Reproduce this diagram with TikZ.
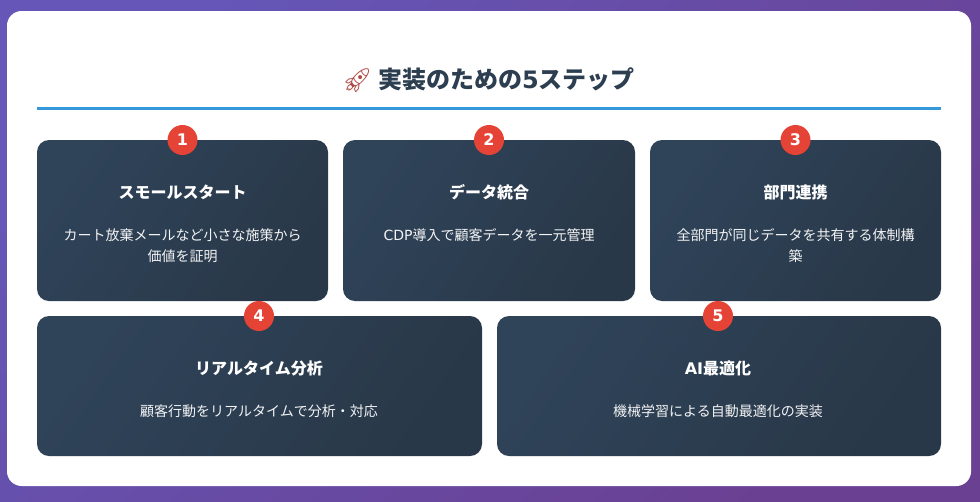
\documentclass[tikz,border=0pt]{standalone}
\usepackage{fontspec}
\setmainfont{Noto Sans CJK JP}
\newfontfamily\emojifont{Noto Emoji}
\newfontfamily\latinfont{DejaVu Sans}
\definecolor{bgstart}{RGB}{101,86,183}
\definecolor{bgend}{RGB}{106,64,146}
\definecolor{cardstart}{RGB}{47,67,89}
\definecolor{cardend}{RGB}{41,56,72}
\definecolor{titletext}{HTML}{2C3E50}
\definecolor{ruleblue}{HTML}{3498DB}
\definecolor{badgered}{RGB}{229,67,54}
\definecolor{rocketred}{RGB}{176,74,70}
\tikzset{
    card/.style={rounded corners=9pt, top color=cardstart, bottom color=cardend, shading angle=55},
    badge/.style={circle, fill=badgered, text=white, inner sep=0pt, minimum size=22.5pt, font=\fontsize{12}{12}\selectfont\latinfont\bfseries},
    cardhead/.style={text=white, inner sep=0pt, font=\fontsize{12}{12}\selectfont\bfseries},
    cardbody/.style={text=white!94!cardstart, inner sep=0pt, align=center, font=\fontsize{10.5}{15.75}\selectfont},
}

\begin{document}
\begin{tikzpicture}[x=0.75pt, y=-0.75pt]
            \useasboundingbox (0,0) rectangle (980,501);

            % background
            \shade[top color=bgstart, bottom color=bgend, shading angle=45] (0,0) rectangle (980,501);
            \fill[white, rounded corners=11pt] (7,11) rectangle (971,486);

            % title
            \node[text=titletext, inner sep=0pt, font=\fontsize{18}{18}\selectfont\bfseries] (title) at (488.5,80)
                {{\emojifont\textcolor{rocketred}{🚀}} 実装のための{\latinfont 5}ステップ};
            \fill[ruleblue] (37,107) rectangle (941,110);

            % cards
            \foreach \xa/\xb/\ya/\yb in {37/328/140/301, 343/635/140/301, 650/941/140/301, 37/482/316/456, 497/941/316/456}
                {
                    \shade[card] (\xa,\ya) rectangle (\xb,\yb);
                }

            % badges
            \foreach \n/\x/\y in {1/182.5/140, 2/489/140, 3/795.5/140, 4/259/316, 5/718/316}
                {
                    \node[badge] (badge\n) at (\x,\y) {\n};
                }

            % headings
            \node[cardhead] (head1) at (182.5,192) {スモールスタート};
            \node[cardhead] (head2) at (489,192) {データ統合};
            \node[cardhead] (head3) at (795.5,192) {部門連携};
            \node[cardhead] (head4) at (259,368) {リアルタイム分析};
            \node[cardhead] (head5) at (718,368) {{\latinfont AI}最適化};

            % descriptions
            \node[cardbody] (body1) at (182.5,245.5) {カート放棄メールなど小さな施策から\\価値を証明};
            \node[cardbody] (body2) at (489,235) {{\latinfont CDP}導入で顧客データを一元管理};
            \node[cardbody] (body3) at (795.5,245.5) {全部門が同じデータを共有する体制構\\築};
            \node[cardbody] (body4) at (259,411) {顧客行動をリアルタイムで分析・対応};
            \node[cardbody] (body5) at (718,411) {機械学習による自動最適化の実装};

        \end{tikzpicture}
\end{document}
